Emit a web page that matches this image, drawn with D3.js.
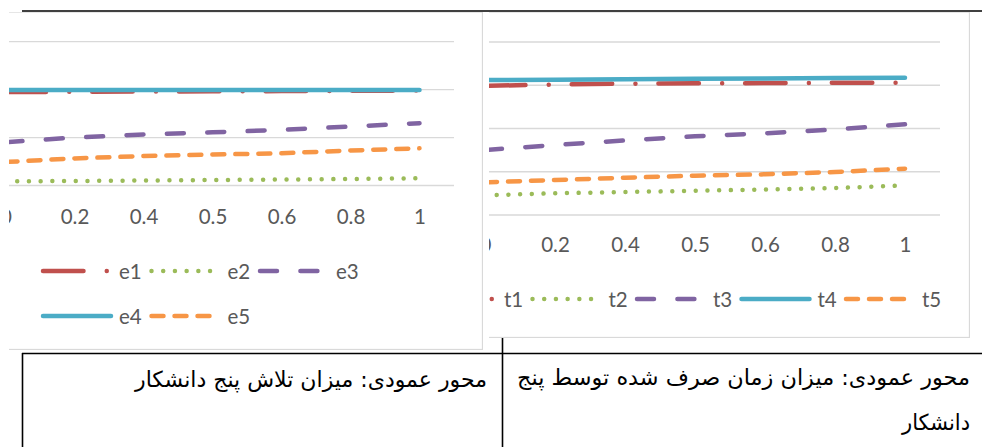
<!DOCTYPE html>
<html>
<head>
<meta charset="utf-8">
<script src="https://cdn.jsdelivr.net/npm/d3@7"></script>
<style>
  body { margin: 0; background: #fff; }
  svg { display: block; }
</style>
</head>
<body>
<svg id="container" width="982" height="447"></svg>
<script>
// categories on the x axis (same for both charts)
const categories = ['0', '0.2', '0.4', '0.5', '0.6', '0.8', '1'];

// left chart: effort of five students
const eTicks = [0, 1, 2, 3];
const e1 = [1.95, 1.955, 1.96, 1.965, 1.97, 1.975, 1.98];
const e2 = [0.088, 0.094, 0.104, 0.115, 0.125, 0.136, 0.15];
const e3 = [0.904, 1.0, 1.064, 1.11, 1.16, 1.23, 1.3];
const e4 = [1.99, 1.99, 1.99, 1.99, 1.99, 1.99, 1.99];
const e5 = [0.49, 0.565, 0.615, 0.647, 0.672, 0.73, 0.776];

// right chart: time spent by five students
const tTicks = [0, 1, 2, 3, 4];
const t1 = [2.987, 3.017, 3.036, 3.045, 3.05, 3.057, 3.06];
const t2 = [0.455, 0.502, 0.532, 0.56, 0.59, 0.624, 0.682];
const t3 = [1.503, 1.618, 1.723, 1.82, 1.889, 1.977, 2.097];
const t4 = [3.12, 3.13, 3.14, 3.148, 3.157, 3.166, 3.175];
const t5 = [0.756, 0.809, 0.862, 0.909, 0.941, 0.994, 1.071];

const eNames = ['e1', 'e2', 'e3', 'e4', 'e5'];
const tNames = ['t1', 't2', 't3', 't4', 't5'];

const colors = ['#C0504D', '#9BBB59', '#8064A2', '#4BACC6', '#F79646'];
const dashes = ['40.5,23.25,0.01,22.95', '0.01,11.7', '17,23.4', null, '12,11'];

const svg = d3.select('#container');
const labelFont = 'Lato, Carlito, sans-serif';

function drawChart(opt) {
    const g = svg.append('g');
    const clipId = 'clip-' + opt.id;
    svg.append('defs').append('clipPath').attr('id', clipId)
        .append('rect')
        .attr('x', opt.box[0]).attr('y', opt.box[1])
        .attr('width', opt.box[2] - opt.box[0]).attr('height', opt.box[3] - opt.box[1]);
    g.attr('clip-path', `url(#${clipId})`);

    g.append('rect')
        .attr('x', opt.box[0] - 10).attr('y', opt.box[1])
        .attr('width', opt.box[2] - opt.box[0] + 9.5).attr('height', opt.box[3] - opt.box[1] - 0.5)
        .attr('fill', '#fff')
        .attr('stroke', '#D9D9D9')
        .attr('stroke-width', 1.3);

    const x = d3.scalePoint().domain(categories).range(opt.xRange).padding(0.5);
    const y = d3.scaleLinear().domain(d3.extent(opt.ticks)).range(opt.yRange);

    g.append('g')
        .selectAll('line')
        .data(opt.ticks)
        .enter()
        .append('line')
        .attr('x1', opt.xRange[0]).attr('x2', opt.xRange[1])
        .attr('y1', d => y(d)).attr('y2', d => y(d))
        .attr('stroke', '#D9D9D9')
        .attr('stroke-width', 1.3);

    const axis = g.append('g')
        .attr('transform', `translate(0,${opt.yRange[0]})`)
        .call(d3.axisBottom(x).tickSize(0).tickPadding(opt.labelPad));
    axis.select('.domain').remove();
    axis.selectAll('text')
        .attr('fill', '#595959')
        .style('font-family', labelFont)
        .style('font-size', '20.5px');

    const line = d3.line()
        .x((d, i) => x(categories[i]))
        .y(d => y(d));

    g.selectAll('path.series')
        .data(opt.series)
        .enter()
        .append('path')
        .attr('class', 'series')
        .attr('d', d => line(d))
        .attr('fill', 'none')
        .attr('stroke', (d, i) => colors[i])
        .attr('stroke-width', 4.5)
        .attr('stroke-linecap', 'round')
        .attr('stroke-dasharray', (d, i) => dashes[i]);

    const legend = g.append('g')
        .selectAll('g')
        .data(opt.names)
        .enter()
        .append('g')
        .attr('transform', (d, i) => {
            const row = Math.floor(i / opt.perRow);
            const col = i % opt.perRow;
            return `translate(${opt.legendX + col * opt.legendStep},${opt.legendY + row * 45})`;
        });

    legend.append('line')
        .attr('x1', 2).attr('x2', 70)
        .attr('stroke', (d, i) => colors[i])
        .attr('stroke-width', 4.5)
        .attr('stroke-linecap', 'round')
        .attr('stroke-dasharray', (d, i) => dashes[i]);

    legend.append('text')
        .attr('x', 78)
        .attr('y', 7.5)
        .attr('fill', '#595959')
        .style('font-family', labelFont)
        .style('font-size', '20.5px')
        .text(d => d);
}

drawChart({
    id: 'e', box: [9, 12, 483, 350],
    xRange: [-29, 454], yRange: [185.5, 41.7], ticks: eTicks, labelPad: 24,
    series: [e1, e2, e3, e4, e5], names: eNames,
    legendX: 41, legendY: 271, legendStep: 108.5, perRow: 3
});

drawChart({
    id: 't', box: [489, 12, 970, 338],
    xRange: [450, 940], yRange: [215, 42], ticks: tTicks, labelPad: 22.5,
    series: [t1, t2, t3, t4, t5], names: tNames,
    legendX: 426, legendY: 299, legendStep: 104.5, perRow: 5
});

// table lines
const table = svg.append('g').attr('stroke', '#000').attr('stroke-width', 1.6);
table.append('line').attr('x1', 22).attr('x2', 982).attr('y1', 11).attr('y2', 11);
table.append('line').attr('x1', 22).attr('x2', 982).attr('y1', 353.5).attr('y2', 353.5);
table.append('line').attr('x1', 22.5).attr('x2', 22.5).attr('y1', 353).attr('y2', 447);
table.append('line').attr('x1', 502.5).attr('x2', 502.5).attr('y1', 338).attr('y2', 447);

// captions under the charts
const captions = [
    { text: 'محور عمودی: میزان تلاش پنج دانشکار', mid: 311, len: 352, y: 387 },
    { text: 'محور عمودی: میزان زمان صرف شده توسط پنج', mid: 743.5, len: 453, y: 385 },
    { text: 'دانشکار', mid: 936, len: 68, y: 430 }
];

svg.append('g')
    .selectAll('text')
    .data(captions)
    .enter()
    .append('text')
    .attr('x', d => d.mid)
    .attr('y', d => d.y)
    .attr('text-anchor', 'middle')
    .attr('direction', 'rtl')
    .attr('textLength', d => d.len)
    .attr('lengthAdjust', 'spacingAndGlyphs')
    .attr('fill', '#000')
    .style('font-family', '"DejaVu Sans", sans-serif')
    .style('font-size', '22px')
    .text(d => d.text);
</script>
</body>
</html>
